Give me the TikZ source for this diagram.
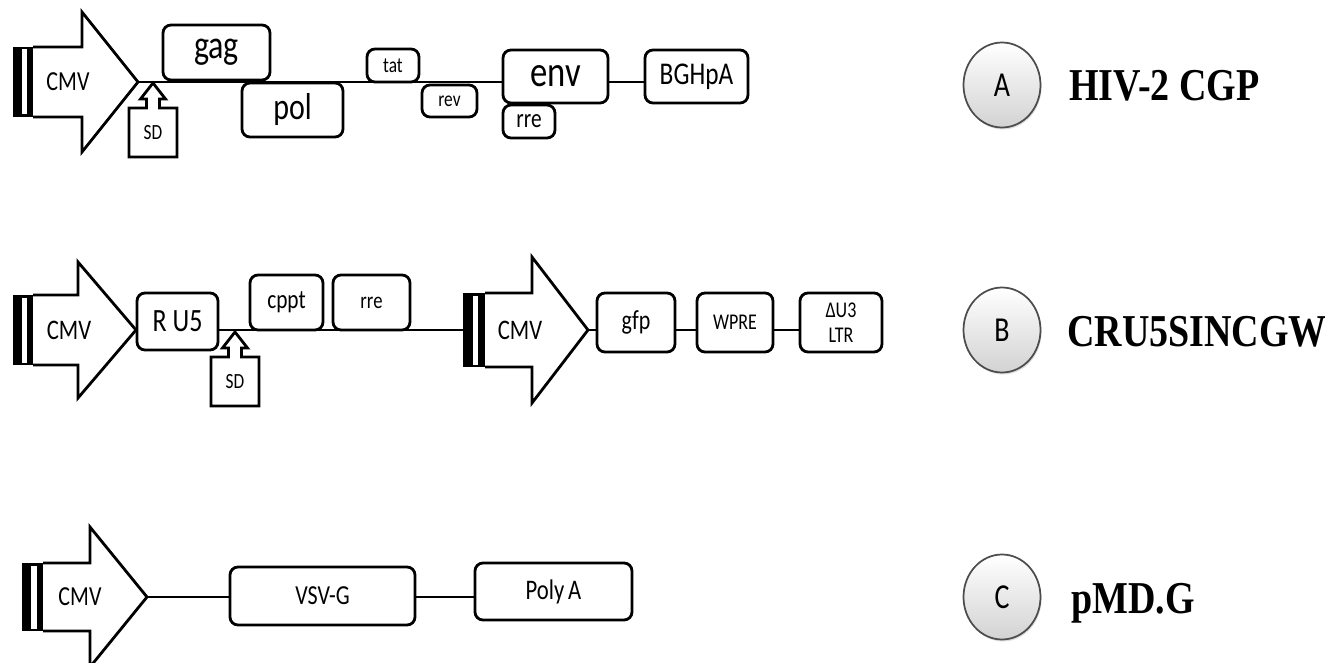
\documentclass[tikz,border=0pt]{standalone}
\usepackage{fontspec}
\setmainfont{Carlito}
\newfontfamily\tnr{Liberation Serif}
\usetikzlibrary{shapes.geometric,shadows,backgrounds}

\newcommand{\st}[1]{\scalebox{1}[1.25]{#1}}
\newcommand{\sttl}[1]{\scalebox{1}[1.2]{#1}}

% CMV promoter arrow: name, bar left, body start, head base, tip, centre y, body half, head half
\newcommand{\cmvarrow}[8]{%
  \fill (#2,{#6-#7}) rectangle (#3,{#6+#7});
  \fill[white] ({#2+0.45*(#3-#2)},{#6-#7+2.5}) rectangle ({#2+0.7*(#3-#2)},{#6+#7-2.5});
  \draw[arrline] (#3,{#6-#7}) -- (#4,{#6-#7}) -- (#4,{#6-#8}) -- (#5,#6) -- (#4,{#6+#8}) -- (#4,{#6+#7}) -- (#3,{#6+#7});
  \coordinate (#1) at (#5,#6);
}
% rounded box: name, x1, y1, x2, y2, font size, text
\newcommand{\gbox}[7]{%
  \node[genebox, minimum width={(#4-#2)*0.75pt}, minimum height={(#5-#3)*0.75pt},
        font=\fontsize{#6}{#6}\selectfont] (#1) at ({(#2+#4)/2},{(#3+#5)/2}) {\st{#7}};
}
% splice donor marker: name, tip x, tip y
\newcommand{\sdmark}[3]{%
  \draw[arrline, fill=white] ({#2-24},{#3+74}) -- ({#2-24},{#3+25}) -- ({#2-6.5},{#3+25}) -- ({#2-6.5},{#3+16})
     -- ({#2-12.5},{#3+16}) -- (#2,#3) -- ({#2+12.5},{#3+16}) -- ({#2+6.5},{#3+16}) -- ({#2+6.5},{#3+25})
     -- ({#2+24},{#3+25}) -- ({#2+24},{#3+74}) -- cycle;
  \node[font=\fontsize{13}{13}\selectfont] (#1) at (#2,{#3+50}) {\st{SD}};
}

\begin{document}
\begin{tikzpicture}[x=0.75pt,y=-0.75pt,line join=miter,
  arrline/.style={line width=2.1pt},
  genebox/.style={draw, line width=2.1pt, rounded corners=6pt, inner sep=0pt, fill=white},
  conn/.style={line width=1.2pt},
  circ/.style={ellipse, draw=gray!60!black, line width=1.3pt, top color=white, bottom color=gray!35,
     minimum width=57.75pt, minimum height=63.75pt, inner sep=0pt,
     drop shadow={opacity=0.25, shadow xshift=0.8pt, shadow yshift=-1.5pt},
     font=\fontsize{21}{21}\selectfont},
  ttl/.style={anchor=base west, font=\tnr\bfseries\fontsize{28.5}{30}\selectfont, inner sep=0pt}]
\useasboundingbox (0,0) rectangle (1325,663);

% ---------------- Row A: HIV-2 CGP ----------------
\cmvarrow{tipA}{13}{33}{82}{138}{82}{35}{70}
\node[font=\fontsize{16.5}{16.5}\selectfont] (cmvA) at (68,82) {\st{CMV}};
\gbox{gag}{163}{25}{270}{80}{24}{gag}
\gbox{pol}{242}{83}{343}{137}{22.5}{pol}
\gbox{tat}{367}{49}{419}{82}{13}{tat}
\gbox{rev}{422}{85}{477}{117}{13}{rev}
\gbox{env}{503}{50}{608}{103}{26}{env}
\gbox{rreA}{503}{105}{555}{138}{16}{rre}
\gbox{bgh}{645}{50}{748}{103}{19}{BGHpA}
\sdmark{sdA}{153}{83}
\begin{pgfonlayer}{background}
\draw[conn] (tipA) -- (tipA -| env.west);
\draw[conn] (env.east |- tipA) -- (bgh.west |- tipA);
\end{pgfonlayer}

% ---------------- Row B: CRU5SINCGW ----------------
\cmvarrow{tipB1}{13}{33}{78}{136}{330}{35}{68}
\node[font=\fontsize{17}{17}\selectfont] (cmvB1) at (69,330) {\st{CMV}};
\gbox{ru5}{137}{293}{218}{350}{19.5}{R U5}
\gbox{cppt}{250}{275}{323}{330}{16}{cppt}
\gbox{rreB}{333}{275}{410}{330}{14}{rre}
\coordinate (barB2) at (463,330);
\cmvarrow{tipB2}{463}{485}{532}{588}{330}{37}{73}
\node[font=\fontsize{17}{17}\selectfont] (cmvB2) at (520,330) {\st{CMV}};
\gbox{gfp}{597}{293}{675}{352}{16.5}{gfp}
\gbox{wpre}{697}{293}{773}{352}{13.5}{WPRE}
\node[genebox, minimum width={(882-800)*0.75pt}, minimum height={(352-293)*0.75pt},
      font=\fontsize{13.5}{19}\selectfont, align=center] (ltr) at (841,322.5) {\st{ΔU3}\\\st{LTR}};
\sdmark{sdB}{235}{332}
\begin{pgfonlayer}{background}
\draw[conn] (ru5.east |- barB2) -- (barB2);
\draw[conn] (tipB2) -- (tipB2 -| gfp.west);
\draw[conn] (gfp.east |- tipB2) -- (wpre.west |- tipB2);
\draw[conn] (wpre.east |- tipB2) -- (ltr.west |- tipB2);
\end{pgfonlayer}

% ---------------- Row C: pMD.G ----------------
\cmvarrow{tipC}{22}{43}{90}{147}{597}{34}{70}
\node[font=\fontsize{16.5}{16.5}\selectfont] (cmvC) at (80,597) {\st{CMV}};
\gbox{vsv}{230}{567}{415}{625}{16.5}{VSV-G}
\gbox{polya}{475}{563}{632}{620}{17}{Poly\,A}
\begin{pgfonlayer}{background}
\draw[conn] (tipC) -- (tipC -| vsv.west);
\draw[conn] (vsv.east |- tipC) -- (polya.west |- tipC);
\end{pgfonlayer}

% ---------------- Labels ----------------
\node[circ] (cA) at (1002,85) {\st{A}};
\node[circ] (cB) at (1002,330) {\st{B}};
\node[circ] (cC) at (1002,597) {\st{C}};
\node[ttl] (tA) at (1069,101) {\sttl{HIV-2 CGP}};
\node[ttl] (tB) at (1067,346) {\sttl{CRU5SINCGW}};
\node[ttl] (tC) at (1071,613) {\sttl{pMD.G}};
\end{tikzpicture}
\end{document}
